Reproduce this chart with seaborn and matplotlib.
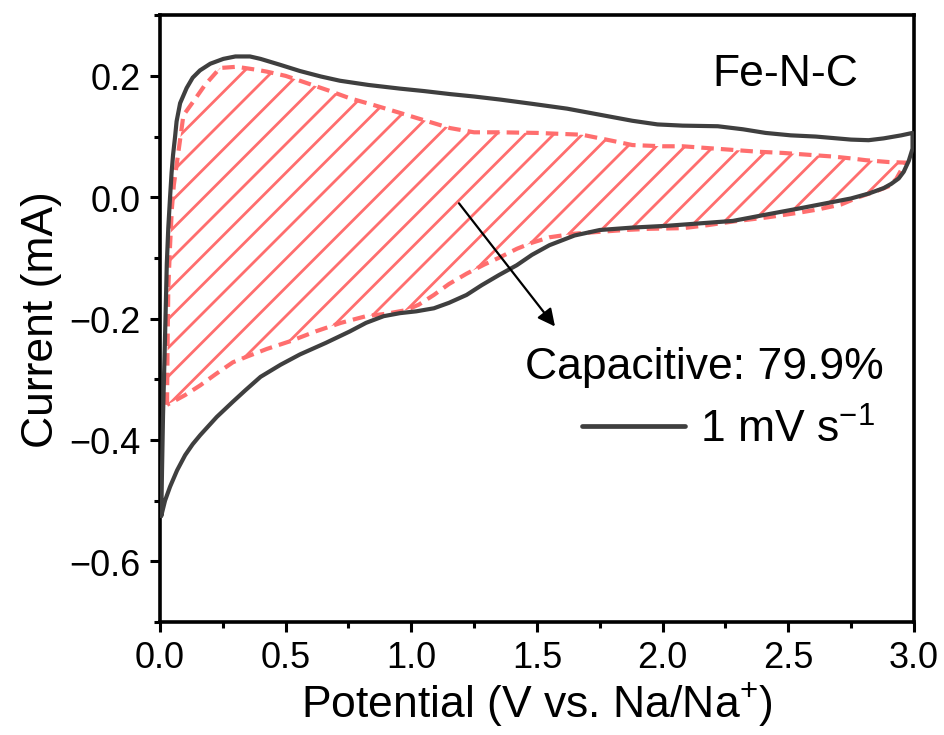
import numpy as np
import pandas as pd
import matplotlib
matplotlib.use("Agg")
import matplotlib.pyplot as plt
from matplotlib.ticker import MultipleLocator, FormatStrFormatter, FuncFormatter
import seaborn as sns

# Cyclic voltammogram at 1 mV/s (closed loop), potential in V, current in mA
cv_potential = [0.005, 0.008, 0.012, 0.020, 0.027, 0.033, 0.040, 0.046, 0.052, 0.060,
                0.066, 0.080, 0.106, 0.130, 0.159, 0.200, 0.252, 0.300, 0.358, 0.400,
                0.480, 0.557, 0.640, 0.716, 0.830, 0.955, 1.050, 1.154, 1.250, 1.353,
                1.480, 1.620, 1.750, 1.880, 1.980, 2.080, 2.220, 2.320, 2.410, 2.510,
                2.610, 2.750, 2.820, 2.880, 2.950, 2.995,
                2.995, 2.980, 2.960, 2.940, 2.910, 2.880, 2.820, 2.750, 2.650, 2.550,
                2.420, 2.280, 2.150, 2.020, 1.880, 1.750, 1.650, 1.550, 1.480, 1.420,
                1.350, 1.280, 1.220, 1.150, 1.090, 1.020, 0.955, 0.890, 0.820, 0.756,
                0.660, 0.557, 0.480, 0.400, 0.340, 0.290, 0.226, 0.160, 0.130, 0.100,
                0.068, 0.040, 0.020, 0.005]
cv_current = [-0.525, -0.450, -0.360, -0.230, -0.110, -0.050, 0.000, 0.040, 0.070, 0.100,
              0.125, 0.155, 0.180, 0.197, 0.209, 0.220, 0.228, 0.232, 0.232, 0.228,
              0.218, 0.208, 0.199, 0.192, 0.185, 0.179, 0.175, 0.170, 0.166, 0.161,
              0.154, 0.146, 0.136, 0.126, 0.120, 0.118, 0.117, 0.112, 0.106, 0.102,
              0.100, 0.095, 0.094, 0.097, 0.102, 0.106,
              0.080, 0.060, 0.042, 0.031, 0.022, 0.015, 0.006, -0.002, -0.010, -0.018,
              -0.028, -0.039, -0.043, -0.047, -0.050, -0.054, -0.063, -0.079, -0.095, -0.112,
              -0.128, -0.145, -0.161, -0.174, -0.183, -0.188, -0.191, -0.196, -0.207, -0.221,
              -0.240, -0.259, -0.276, -0.296, -0.318, -0.337, -0.362, -0.392, -0.407, -0.425,
              -0.450, -0.477, -0.500, -0.525]

# Capacitive contribution (closed loop)
cap_potential = [0.028, 0.030, 0.033, 0.040, 0.047, 0.055, 0.066, 0.075, 0.085, 0.093,
                 0.133, 0.179, 0.239, 0.305, 0.385, 0.425, 0.500, 0.585, 0.670, 0.756,
                 0.850, 0.955, 1.050, 1.154, 1.250, 1.353, 1.500, 1.680, 1.800, 1.880,
                 2.000, 2.080, 2.180, 2.280, 2.380, 2.480, 2.580, 2.680, 2.750, 2.810,
                 2.900, 2.970,
                 2.950, 2.930, 2.900, 2.850, 2.780, 2.710, 2.620, 2.550, 2.420, 2.280,
                 2.180, 2.080, 1.950, 1.850, 1.750, 1.650, 1.550, 1.480, 1.420, 1.353,
                 1.290, 1.220, 1.150, 1.090, 1.030, 0.980, 0.900, 0.820, 0.720, 0.620,
                 0.520, 0.425, 0.350, 0.290, 0.220, 0.160, 0.100, 0.060, 0.028]
cap_current = [-0.342, -0.250, -0.150, -0.080, -0.020, 0.020, 0.053, 0.080, 0.110, 0.135,
               0.158, 0.185, 0.213, 0.215, 0.210, 0.207, 0.200, 0.188, 0.176, 0.163,
               0.152, 0.139, 0.127, 0.114, 0.107, 0.107, 0.106, 0.103, 0.093, 0.086,
               0.084, 0.084, 0.081, 0.078, 0.075, 0.073, 0.070, 0.067, 0.064, 0.061,
               0.058, 0.057,
               0.045, 0.030, 0.018, 0.010, 0.000, -0.012, -0.020, -0.025, -0.033, -0.040,
               -0.046, -0.051, -0.052, -0.054, -0.057, -0.060, -0.066, -0.075, -0.085, -0.099,
               -0.111, -0.126, -0.143, -0.161, -0.177, -0.186, -0.192, -0.196, -0.207, -0.221,
               -0.237, -0.250, -0.262, -0.272, -0.292, -0.310, -0.326, -0.335, -0.342]

capacitive_share = 79.9
scan_label = "1 mV s$^{\\mathregular{-1}}$"
sample_name = "Fe-N-C"

cv = pd.DataFrame({"Potential": cv_potential, "Current": cv_current})
cap = pd.DataFrame({"Potential": cap_potential, "Current": cap_current})

# render resolution; sizes below are given for 100 dpi and rescaled
DPI = 86
S = 100 / DPI

sns.set_theme(style="ticks")
plt.rcParams["font.family"] = ["Liberation Sans", "DejaVu Sans"]
plt.rcParams["mathtext.fontset"] = "custom"
plt.rcParams["mathtext.rm"] = "Liberation Sans"
plt.rcParams["mathtext.it"] = "Liberation Sans:italic"
plt.rcParams["mathtext.bf"] = "Liberation Sans:bold"
plt.rcParams["hatch.linewidth"] = 2.0 * S
plt.rcParams["text.color"] = "black"
plt.rcParams["axes.labelcolor"] = "black"

line_color = "#3f3f3f"
red = "#ff6e6e"

fig = plt.figure(figsize=(944 / DPI, 736 / DPI), dpi=DPI)
ax = fig.add_axes([0.1695, 0.1535, 0.7985, 0.8245])

# hatched capacitive region with dashed outline
ax.fill(cap["Potential"], cap["Current"], facecolor="none", edgecolor=red,
        hatch="/", linewidth=0, zorder=1)
sns.lineplot(data=cap, x="Potential", y="Current", sort=False, estimator=None,
             color=red, linewidth=3.0 * S, ax=ax, zorder=2)
ax.lines[-1].set_dashes((3.0, 1.7))

sns.lineplot(data=cv, x="Potential", y="Current", sort=False, estimator=None,
             color=line_color, linewidth=3.0 * S, ax=ax, zorder=3, label=scan_label)

ax.set_xlim(0, 3.0)
ax.set_ylim(-0.7, 0.3)
ax.xaxis.set_major_locator(MultipleLocator(0.5))
ax.xaxis.set_minor_locator(MultipleLocator(0.25))
ax.yaxis.set_minor_locator(MultipleLocator(0.1))
ax.set_yticks([-0.6, -0.4, -0.2, 0.0, 0.2])
ax.xaxis.set_major_formatter(FormatStrFormatter("%.1f"))
ax.yaxis.set_major_formatter(FuncFormatter(
    lambda v, p: ("%.1f" % v).replace("-", "\u2212")))

for s in ax.spines.values():
    s.set_linewidth(2.6 * S)
    s.set_color("black")
    s.set_visible(True)
ax.tick_params(which="major", direction="out", length=7 * S, width=2.2 * S,
               labelsize=26 * S, pad=6 * S, colors="black")
ax.tick_params(which="minor", direction="out", length=4 * S, width=2.2 * S, colors="black")
ax.tick_params(top=False, right=False, which="both")
ax.tick_params(axis="y", pad=7 * S)

ax.set_xlabel("Potential (V vs. Na/Na$^{\\mathregular{+}}$)", fontsize=32 * S, labelpad=3 * S)
ax.set_ylabel("Current (mA)", fontsize=32 * S, labelpad=5 * S)

ax.text(2.20, 0.185, sample_name, fontsize=32 * S, ha="left", va="baseline")
ax.text(1.452, -0.298, f"Capacitive: {capacitive_share}%", fontsize=32 * S,
        ha="left", va="baseline")
ax.annotate("", xy=(1.572, -0.213), xytext=(1.19, -0.01),
            arrowprops=dict(arrowstyle="-|>", color="black", lw=1.6 * S,
                            mutation_scale=26 * S, shrinkA=0, shrinkB=0))

leg = ax.legend(loc="center left", bbox_to_anchor=(0.56, 0.318), frameon=False,
                fontsize=32 * S, handlelength=2.32, handletextpad=0.34,
                borderpad=0, borderaxespad=0)
for h in leg.get_lines():
    h.set_linewidth(3.4 * S)

fig.savefig("out.png", dpi=DPI)
